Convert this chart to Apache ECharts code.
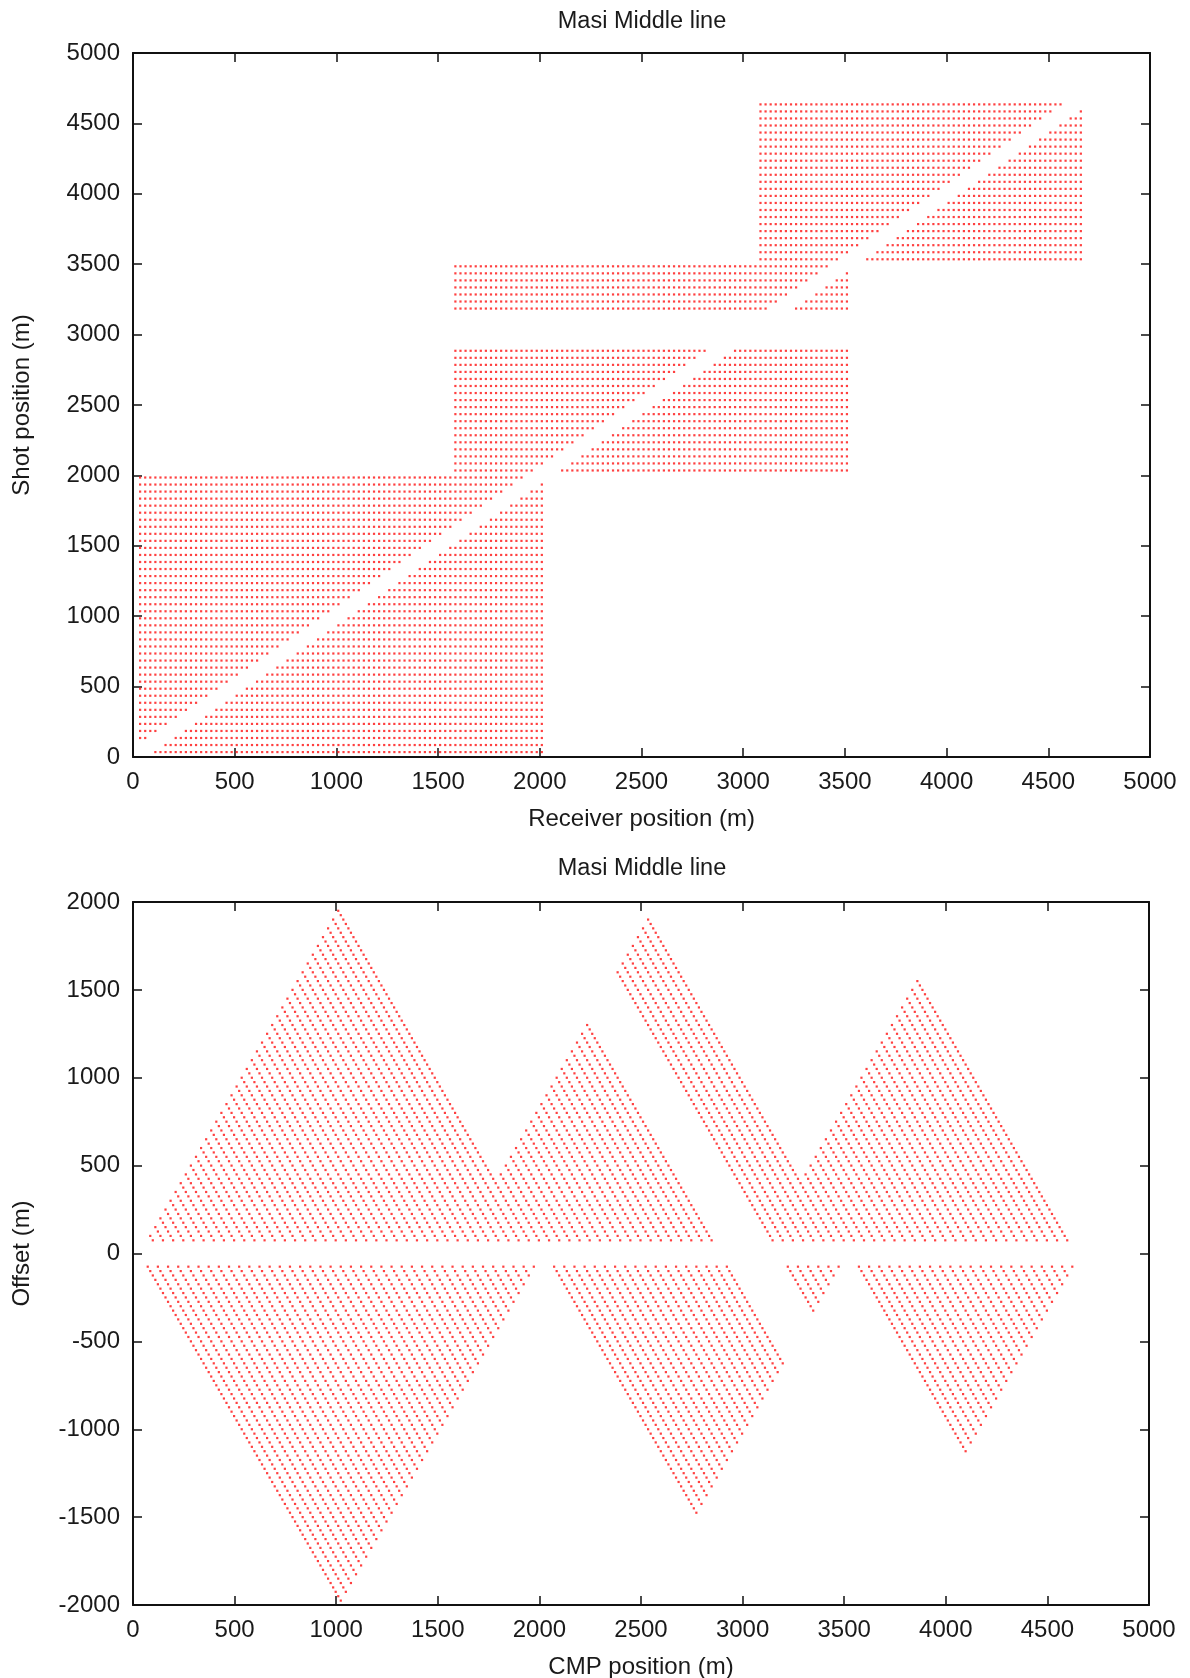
<!DOCTYPE html>
<html>
<head>
<meta charset="utf-8">
<script src="https://cdn.jsdelivr.net/npm/echarts@6/dist/echarts.min.js"></script>
<style>
html,body{margin:0;padding:0;background:#fff;}
#chart{width:1190px;height:1678px;}
</style>
</head>
<body>
<div id="chart"></div>
<script>
// ---- Survey geometry ----
// Shot positions (m), one array per recording block
const shotsA = [35,85,135,185,235,285,335,385,435,485,535,585,635,685,735,785,835,885,935,985,1035,1085,1135,1185,1235,1285,1335,1385,1435,1485,1535,1585,1635,1685,1735,1785,1835,1885,1935,1985];
const shotsB = [2035,2085,2135,2185,2235,2285,2335,2385,2435,2485,2535,2585,2635,2685,2735,2785,2835,2885];
const shotsC = [3185,3235,3285,3335,3385,3435,3485];
const shotsD = [3535,3585,3635,3685,3735,3785,3835,3885,3935,3985,4035,4085,4135,4185,4235,4285,4335,4385,4435,4485,4535,4585,4635];

// Receiver spreads (m) used by the blocks
const spreadA = [35,60,85,110,135,160,185,210,235,260,285,310,335,360,385,410,435,460,485,510,535,560,585,610,635,660,685,710,735,760,785,810,835,860,885,910,935,960,985,1010,1035,1060,1085,1110,1135,1160,1185,1210,1235,1260,1285,1310,1335,1360,1385,1410,1435,1460,1485,1510,1535,1560,1585,1610,1635,1660,1685,1710,1735,1760,1785,1810,1835,1860,1885,1910,1935,1960,1985,2010];
const spreadB = [1585,1610,1635,1660,1685,1710,1735,1760,1785,1810,1835,1860,1885,1910,1935,1960,1985,2010,2035,2060,2085,2110,2135,2160,2185,2210,2235,2260,2285,2310,2335,2360,2385,2410,2435,2460,2485,2510,2535,2560,2585,2610,2635,2660,2685,2710,2735,2760,2785,2810,2835,2860,2885,2910,2935,2960,2985,3010,3035,3060,3085,3110,3135,3160,3185,3210,3235,3260,3285,3310,3335,3360,3385,3410,3435,3460,3485,3510];
const spreadC = [3085,3110,3135,3160,3185,3210,3235,3260,3285,3310,3335,3360,3385,3410,3435,3460,3485,3510,3535,3560,3585,3610,3635,3660,3685,3710,3735,3760,3785,3810,3835,3860,3885,3910,3935,3960,3985,4010,4035,4060,4085,4110,4135,4160,4185,4210,4235,4260,4285,4310,4335,4360,4385,4410,4435,4460,4485,4510,4535,4560,4585,4610,4635,4660];

// Near-offset traces not recorded (|shot - receiver| below this, m)
const minOffset = 75;

// Which spread each shot block used
const blocks = [
  {shots: shotsA, spread: spreadA},
  {shots: shotsB, spread: spreadB},
  {shots: shotsC, spread: spreadB},
  {shots: shotsD, spread: spreadC}
];

// Axis ticks
const xTicks = {min: 0, max: 5000, interval: 500};
const shotTicks = {min: 0, max: 5000, interval: 500};
const offsetTicks = {min: -2000, max: 2000, interval: 500};

const titleText = 'Masi Middle line';
const names = {
  rec: 'Receiver position (m)', shot: 'Shot position (m)',
  cmp: 'CMP position (m)', off: 'Offset (m)'
};

// ---- Build traces: [receiver, shot] and [cmp, offset] ----
const srData = [];
const cmpData = [];
blocks.forEach(b => {
  b.shots.forEach(s => {
    b.spread.forEach(r => {
      if (Math.abs(s - r) >= minOffset) {
        srData.push([r, s]);
        cmpData.push([(s + r) / 2, s - r]);
      }
    });
  });
});

const FONT = '"Liberation Sans", Arial, Helvetica, sans-serif';
const TXT = '#1a1a1a';
const FS = 24;
const lineStyle = {color: '#111', width: 2};
const tickStyle = {show: true, inside: true, length: 9, lineStyle: {color: '#111', width: 1.5}};

function xAxes(gridIndex, ticks, name) {
  return [{
    type: 'value', gridIndex, position: 'bottom', ...ticks,
    name, nameLocation: 'middle', nameGap: 50,
    nameTextStyle: {fontFamily: FONT, fontSize: FS, color: TXT},
    axisLine: {show: true, onZero: false, lineStyle},
    axisTick: tickStyle,
    axisLabel: {show: true, margin: 13, fontFamily: FONT, fontSize: FS, color: TXT, formatter: v => String(v)},
    splitLine: {show: false}
  }, {
    type: 'value', gridIndex, position: 'top', ...ticks,
    axisLine: {show: true, onZero: false, lineStyle},
    axisTick: tickStyle,
    axisLabel: {show: false}, splitLine: {show: false}
  }];
}
function yAxes(gridIndex, ticks, name) {
  return [{
    type: 'value', gridIndex, position: 'left', ...ticks,
    name, nameLocation: 'middle', nameGap: 99,
    nameTextStyle: {fontFamily: FONT, fontSize: FS, color: TXT},
    axisLine: {show: true, onZero: false, lineStyle},
    axisTick: tickStyle,
    axisLabel: {show: true, margin: 13, fontFamily: FONT, fontSize: FS, color: TXT, formatter: v => String(v)},
    splitLine: {show: false}
  }, {
    type: 'value', gridIndex, position: 'right', ...ticks,
    axisLine: {show: true, onZero: false, lineStyle},
    axisTick: tickStyle,
    axisLabel: {show: false}, splitLine: {show: false}
  }];
}

const chart = echarts.init(document.getElementById('chart'), null, {renderer: 'canvas'});
chart.setOption({
  animation: false,
  backgroundColor: '#fff',
  title: [
    {text: titleText, left: 637, top: 5, textAlign: 'center',
     textStyle: {fontFamily: FONT, fontSize: 23.5, fontWeight: 'normal', color: TXT}},
    {text: titleText, left: 637, top: 852, textAlign: 'center',
     textStyle: {fontFamily: FONT, fontSize: 23.5, fontWeight: 'normal', color: TXT}}
  ],
  grid: [
    {left: 133, top: 53, width: 1017, height: 704, containLabel: false, outerBoundsMode: 'none'},
    {left: 133, top: 902, width: 1016, height: 703, containLabel: false, outerBoundsMode: 'none'}
  ],
  xAxis: [...xAxes(0, xTicks, names.rec), ...xAxes(1, xTicks, names.cmp)],
  yAxis: [...yAxes(0, shotTicks, names.shot), ...yAxes(1, offsetTicks, names.off)],
  series: [
    {type: 'scatter', xAxisIndex: 0, yAxisIndex: 0, data: srData,
     symbol: 'rect', symbolSize: 2.2, itemStyle: {color: '#ff1010'}, silent: true, large: false},
    {type: 'scatter', xAxisIndex: 2, yAxisIndex: 2, data: cmpData,
     symbol: 'rect', symbolSize: 2.2, itemStyle: {color: '#ff1010'}, silent: true, large: false}
  ]
});
</script>
</body>
</html>
